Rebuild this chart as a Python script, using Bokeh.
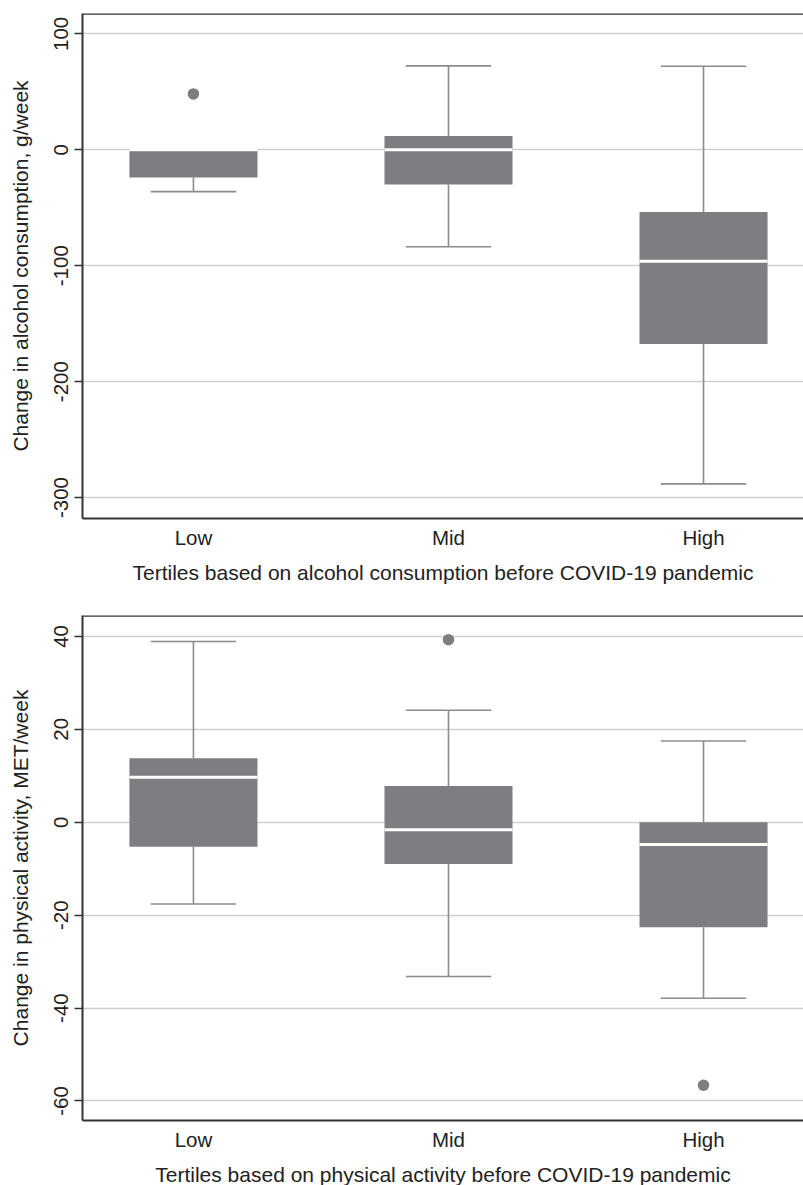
from bokeh.plotting import figure
from bokeh.models import FixedTicker, Span, ColumnDataSource
from bokeh.layouts import column
from bokeh.embed import file_html
from bokeh.resources import INLINE

# ---- data ----
categories = ["Low", "Mid", "High"]
positions = [1, 2, 3]

alc_lower = [-36.1, -83.6, -288.2]
alc_q1 = [-24.0, -29.9, -167.5]
alc_median = [0.0, 0.0, -96.1]
alc_q3 = [0.0, 12.0, -53.6]
alc_upper = [0.0, 72.4, 72.1]
alc_out_pos = [1]
alc_out_val = [48.2]
alc_ticks = [-300, -200, -100, 0, 100]

pa_lower = [-17.6, -33.2, -37.9]
pa_q1 = [-5.3, -9.0, -22.6]
pa_median = [9.7, -1.6, -4.8]
pa_q3 = [13.8, 7.8, 0.0]
pa_upper = [38.9, 24.1, 17.5]
pa_out_pos = [2, 3]
pa_out_val = [39.3, -56.6]
pa_ticks = [-60, -40, -20, 0, 20, 40]

FONT = "Liberation Sans"
TXT = "#222222"
BOX = "#7d7e82"
WHISK = "#8c8c8c"
BOX_W = 0.502
CAP_W = 0.335
FS = "20.5px"
FS_TITLE = "21px"


def make_plot(lower, q1, med, q3, upper, out_pos, out_val, ticks, yr, ylabel, xlabel,
              top_border, bottom_border):
    p = figure(width=803, height=top_border + 505 + bottom_border,
               frame_width=721, frame_height=505,
               x_range=(0.565, 3.392), y_range=yr,
               output_backend="svg", toolbar_location=None,
               min_border_left=82, min_border_right=0,
               min_border_top=top_border, min_border_bottom=bottom_border)
    p.outline_line_color = None
    p.background_fill_color = "white"
    p.border_fill_color = "white"

    src = ColumnDataSource(dict(x=positions, lower=lower, q1=q1, med=med, q3=q3, upper=upper))
    # whiskers
    p.segment(x0="x", y0="q3", x1="x", y1="upper", source=src, line_color=WHISK, line_width=1.6)
    p.segment(x0="x", y0="q1", x1="x", y1="lower", source=src, line_color=WHISK, line_width=1.6)
    xs = positions
    p.segment(x0=[x - CAP_W / 2 for x in xs], y0=upper, x1=[x + CAP_W / 2 for x in xs], y1=upper,
              line_color=WHISK, line_width=1.6)
    p.segment(x0=[x - CAP_W / 2 for x in xs], y0=lower, x1=[x + CAP_W / 2 for x in xs], y1=lower,
              line_color=WHISK, line_width=1.6)
    # boxes
    p.vbar(x="x", width=BOX_W, top="q3", bottom="q1", source=src,
           fill_color=BOX, line_color=None)
    # medians
    p.segment(x0=[x - BOX_W / 2 for x in xs], y0=med, x1=[x + BOX_W / 2 for x in xs], y1=med,
              line_color="white", line_width=3)
    # outliers
    p.scatter(x=out_pos, y=out_val, size=11.5, fill_color=BOX, line_color=None)

    # top border
    p.add_layout(Span(location=yr[1], dimension="width", line_color="#333333", line_width=2.5))

    # axes
    p.xaxis.ticker = FixedTicker(ticks=positions)
    p.xaxis.major_label_overrides = {pos: c for pos, c in zip(positions, categories)}
    p.xaxis.major_tick_line_color = None
    p.xaxis.major_tick_out = 0
    p.xaxis.minor_tick_line_color = None
    p.xaxis.major_label_standoff = 7
    p.xaxis.axis_label = xlabel
    p.xaxis.axis_label_standoff = 9

    p.yaxis.ticker = FixedTicker(ticks=ticks)
    p.yaxis.major_label_overrides = {t: str(t) for t in ticks}
    p.yaxis.major_label_orientation = "vertical"
    p.yaxis.minor_tick_line_color = None
    p.yaxis.major_tick_out = 8
    p.yaxis.major_tick_in = 0
    p.yaxis.major_tick_line_color = "#333333"
    p.yaxis.major_tick_line_width = 1.5
    p.yaxis.major_label_standoff = 6
    p.yaxis.axis_label = ylabel
    p.yaxis.axis_label_standoff = 20

    for ax in (p.xaxis[0], p.yaxis[0]):
        ax.axis_line_color = "#333333"
        ax.axis_line_width = 2
        ax.major_label_text_font = FONT
        ax.axis_label_text_font = FONT
        ax.major_label_text_color = TXT
        ax.axis_label_text_color = TXT
        ax.axis_label_text_font_style = "normal"
        ax.major_label_text_font_size = FS
        ax.axis_label_text_font_size = FS_TITLE

    p.xgrid.grid_line_color = None
    p.ygrid.grid_line_color = "#cfcfcf"
    p.ygrid.grid_line_width = 1.5
    return p


p1 = make_plot(alc_lower, alc_q1, alc_median, alc_q3, alc_upper, alc_out_pos, alc_out_val,
               alc_ticks, (-318.1, 117.6), "Change in alcohol consumption, g/week",
               "Tertiles based on alcohol consumption before COVID-19 pandemic", 13, 92)
p2 = make_plot(pa_lower, pa_q1, pa_median, pa_q3, pa_upper, pa_out_pos, pa_out_val,
               pa_ticks, (-64.2, 44.5), "Change in physical activity, MET/week",
               "Tertiles based on physical activity before COVID-19 pandemic", 5, 65)

layout = column(p1, p2, spacing=0)
open("out.html", "w").write(file_html(layout, INLINE))
